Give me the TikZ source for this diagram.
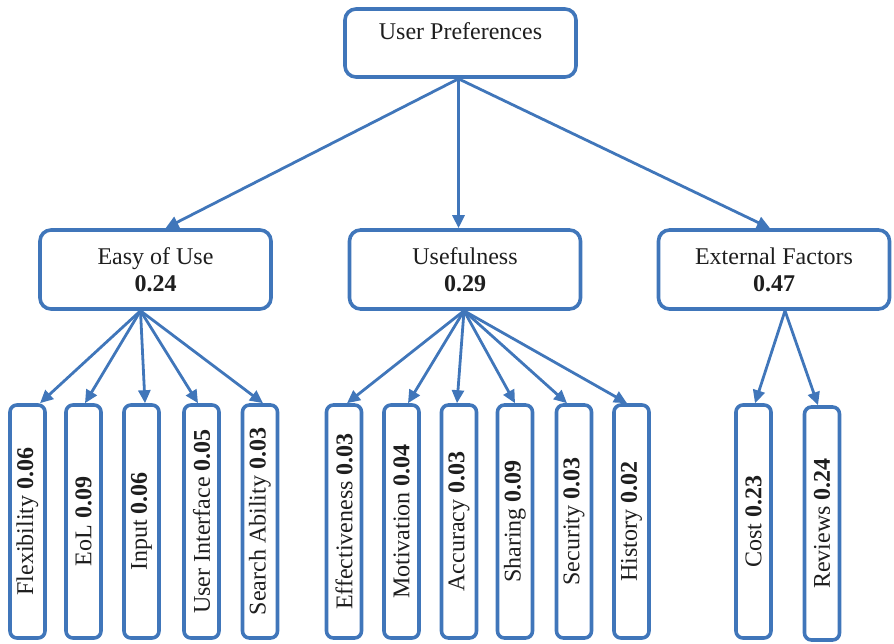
\documentclass[tikz,border=0pt]{standalone}
\usepackage{fontspec}
\setmainfont{Liberation Serif}
\usepackage{graphicx}
\usetikzlibrary{arrows.meta}
\definecolor{boxblue}{RGB}{64,118,186}
\definecolor{ink}{RGB}{30,30,30}
\begin{document}
\begin{tikzpicture}[x=1pt,y=-1pt,
  font=\fontsize{24}{27}\selectfont,
  every node/.style={text=ink},
  box/.style={draw=boxblue, line width=3.6pt, rounded corners=11pt, fill=white,
    align=center, inner sep=0pt},
  topbox/.style={box, minimum width=231pt, text height=31pt, text depth=37pt},
  midbox/.style={box, minimum width=231pt, minimum height=79pt},
  leaf/.style={box, rounded corners=7pt, minimum width=35pt, minimum height=233pt},
  arr/.style={draw=boxblue, line width=2.8pt,
    -{Triangle[length=13pt,width=12pt]}}]
\path[use as bounding box] (0,0) rectangle (894,644);

% root
\node[topbox] (up) at (460.5,43) {User Preferences};

% criteria
\node[midbox] (easy) at (155.5,269.5) {Easy of Use\\\textbf{0.24}};
\node[midbox] (use)  at (465,269.5)   {Usefulness\\\textbf{0.29}};
\node[midbox] (ext)  at (774,269.5)   {External Factors\\\textbf{0.47}};

% sub-criteria
\node[leaf] (fl)   at (27.5,521.5)  {\rotatebox{90}{Flexibility \textbf{0.06}}};
\node[leaf] (eol)  at (83.5,521.5)  {\rotatebox{90}{EoL \textbf{0.09}}};
\node[leaf] (inp)  at (141.5,521.5) {\rotatebox{90}{Input \textbf{0.06}}};
\node[leaf] (ui)   at (201.5,521.5) {\rotatebox{90}{User Interface \textbf{0.05}}};
\node[leaf] (sa)   at (260,521.5)   {\rotatebox{90}{Search Ability \textbf{0.03}}};

\node[leaf] (eff)  at (344,521.5)   {\rotatebox{90}{Effectiveness \textbf{0.03}}};
\node[leaf] (mot)  at (401.5,521.5) {\rotatebox{90}{Motivation \textbf{0.04}}};
\node[leaf] (acc)  at (459,521.5)   {\rotatebox{90}{Accuracy \textbf{0.03}}};
\node[leaf] (sha)  at (515,521.5)   {\rotatebox{90}{Sharing \textbf{0.09}}};
\node[leaf] (sec)  at (574,521.5)   {\rotatebox{90}{Security \textbf{0.03}}};
\node[leaf] (his)  at (631.5,521.5) {\rotatebox{90}{History \textbf{0.02}}};

\node[leaf] (cost) at (753.5,521.5) {\rotatebox{90}{Cost \textbf{0.23}}};
\node[leaf] (rev)  at (822,523.5)   {\rotatebox{90}{Reviews \textbf{0.24}}};

% root to criteria
\draw[arr] ([xshift=-2pt]up.south) -- ([xshift=10pt]easy.north);
\draw[arr] ([xshift=-2pt]up.south) -- ([xshift=-2pt]up.south |- use.north);
\draw[arr] ([xshift=-2pt]up.south) -- ([xshift=-4pt]ext.north);

% easy of use to its sub-criteria
\foreach \n/\s in {fl/12.5, eol/1.5, inp/3.5, ui/-3.5, sa/3}
  \draw[arr] ([xshift=-15pt]easy.south) -- ([xshift=\s pt]\n.north);

% usefulness to its sub-criteria
\foreach \n/\s in {eff/3, mot/6.5, acc/-2, sha/0, sec/-7, his/-4.5}
  \draw[arr] ([xshift=-1pt]use.south) -- ([xshift=\s pt]\n.north);

% external factors to its sub-criteria
\foreach \n/\s in {cost/1.5, rev/-4}
  \draw[arr] ([xshift=11pt]ext.south) -- ([xshift=\s pt]\n.north);
\end{tikzpicture}
\end{document}
